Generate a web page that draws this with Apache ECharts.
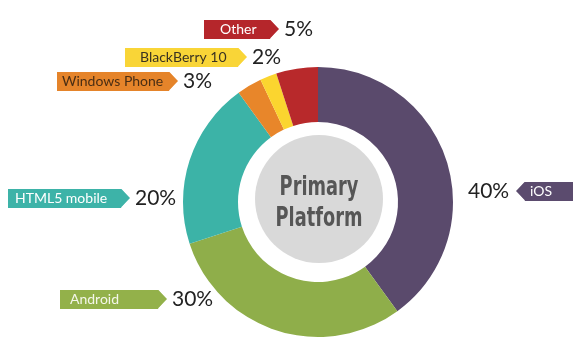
<!DOCTYPE html>
<html><head><meta charset="utf-8">
<script src="https://cdn.jsdelivr.net/npm/echarts@6/dist/echarts.min.js"></script>
<style>html,body{margin:0;padding:0;background:#fff}#c{width:580px;height:355px}</style>
</head><body><div id="c"></div>
<script>
const categories = ['iOS', 'Android', 'HTML5 mobile', 'Windows Phone', 'BlackBerry 10', 'Other'];
const values = [40, 30, 20, 3, 2, 5];
const centerLines = ['Primary', 'Platform'];

const sliceColors = ['#5a4a6c', '#8fae4a', '#3cb3a7', '#e8862a', '#fbd52f', '#b8292b'];
const tagColors = ['#5b4b6e', '#93b14a', '#3db3a8', '#e5842a', '#f9d537', '#b5262b'];
const tagText = ['#ffffff', '#f4f6ea', '#ffffff', '#4a2e14', '#3a3222', '#ffffff'];
// tag layout: [tag start x, text start x, tag end x, centre y]; iOS tag points left (start = tip)
const tagBoxes = [[516, 530, 573, 191], [60, 70, 167, 299], [8, 15, 130, 198], [57, 62, 178, 81], [125, 140, 247, 57], [204, 220, 279, 29]];
const pointsLeft = [true, false, false, false, false, false];

const TAG_SIZE = 14;
const TAG_FONT = TAG_SIZE + 'px Lato';
const PCT_FONT = '21px Lato';
const GAP = 5;
const measurer = document.createElement('canvas').getContext('2d');
function textW(text, font) { measurer.font = font; return Math.ceil(measurer.measureText(text).width); }
function tagImage(w, color, left) {
  const h = 20;
  const s = 2;
  const c = document.createElement('canvas');
  c.width = w * s; c.height = h * s;
  const ctx = c.getContext('2d');
  ctx.scale(s, s);
  ctx.fillStyle = color;
  ctx.beginPath();
  const tip = 9;
  if (!left) {
    ctx.moveTo(0, 0); ctx.lineTo(w - tip, 0); ctx.lineTo(w, h / 2); ctx.lineTo(w - tip, h); ctx.lineTo(0, h);
  } else {
    ctx.moveTo(tip, 0); ctx.lineTo(w, 0); ctx.lineTo(w, h); ctx.lineTo(tip, h); ctx.lineTo(0, h / 2);
  }
  ctx.closePath(); ctx.fill();
  return c;
}

const rich = {};
const anchors = [];
categories.forEach((name, i) => {
  const b = tagBoxes[i];
  const left = pointsLeft[i];
  const tw = textW(name, TAG_FONT);
  const w = b[2] - b[0];
  const pl = b[1] - b[0];
  const pr = Math.max(0, w - pl - tw);
  rich['t' + i] = {
    fontFamily: 'Lato', fontSize: TAG_SIZE, lineHeight: 15, color: tagText[i],
    width: tw, align: 'left',
    padding: [3, pr, 2, pl],
    backgroundColor: { image: tagImage(w, tagColors[i], left) }
  };
  const pw = textW(values[i] + '%', PCT_FONT);
  rich['p' + i] = { fontFamily: 'Lato', fontSize: 21, color: '#222', width: pw, align: 'left', padding: left ? [0, GAP + 1, 0, 0] : [0, 0, 0, GAP] };
  anchors.push(left ? [b[2], b[3], 'right'] : [b[0], b[3], 'left']);
});

const data = categories.map((name, i) => ({ name, value: values[i], itemStyle: { color: sliceColors[i] } }));

const chart = echarts.init(document.getElementById('c'), null, { renderer: 'canvas' });
chart.setOption({
  animation: false,
  backgroundColor: '#fff',
  graphic: [{
    type: 'text', x: 319, y: 204, scaleX: 0.76, z: 100, silent: true,
    style: {
      text: centerLines.join('\n'), align: 'center', verticalAlign: 'middle',
      fontFamily: '"DejaVu Sans Condensed", "DejaVu Sans", sans-serif', fontWeight: 'bold', fontSize: 26, lineHeight: 31,
      fill: '#565656'
    }
  }],
  series: [
    {
      type: 'pie',
      center: [318, 202],
      radius: [80, 135],
      startAngle: 90,
      clockwise: true,
      silent: true,
      data,
      labelLine: { show: false },
      label: {
        show: true,
        position: 'inside',
        overflow: 'none',
        formatter: (p) => {
          const i = p.dataIndex;
          return pointsLeft[i]
            ? '{p' + i + '|' + p.value + '%}{t' + i + '|' + p.name + '}'
            : '{t' + i + '|' + p.name + '}{p' + i + '|' + p.value + '%}';
        },
        rich
      },
      labelLayout: (p) => {
        const a = anchors[p.dataIndex];
        return { x: a[0], y: a[1], align: a[2], verticalAlign: 'middle' };
      }
    },
    {
      type: 'pie',
      center: [319, 199],
      radius: [0, 64],
      silent: true,
      data: [{ value: 1, name: 'center', itemStyle: { color: '#d9d9d9' } }],
      labelLine: { show: false },
      label: { show: false }
    }
  ]
});
</script></body></html>
